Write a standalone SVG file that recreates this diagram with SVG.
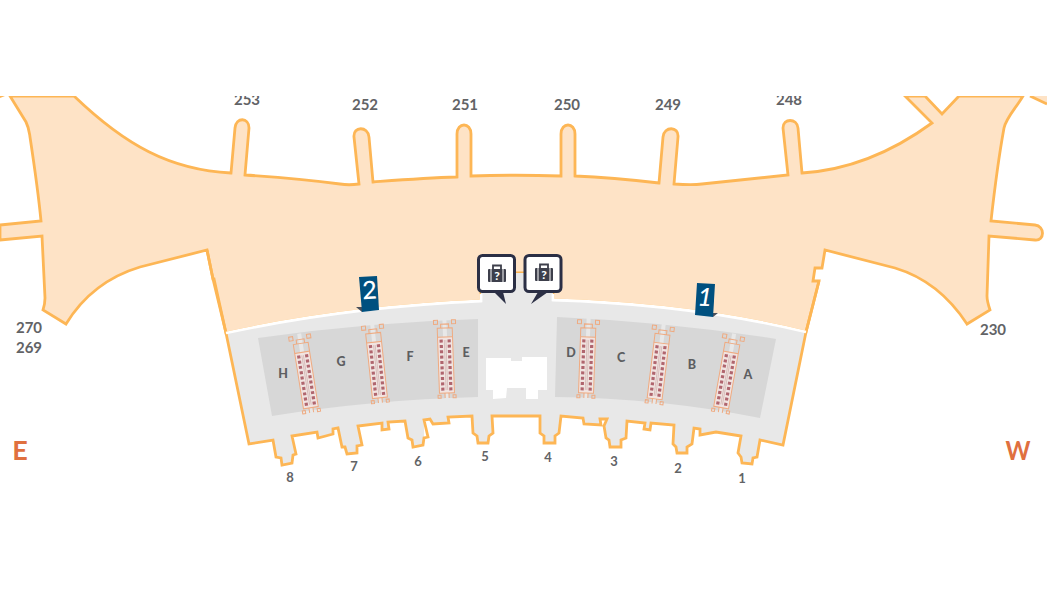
<svg xmlns="http://www.w3.org/2000/svg" width="1050" height="597" viewBox="0 0 1050 597">
<style>
text{font-family:Lato,"Open Sans","Liberation Sans",sans-serif;text-anchor:middle;dominant-baseline:central}
.out{stroke:#fdb655;stroke-width:2.8;stroke-linejoin:miter;fill:#fee3c6}
.wl{fill:none;stroke:#fff;stroke-width:2.8}
.panel{fill:#d7d7d7}
.num{font-size:15px;font-weight:700;fill:#626366}
.gate{font-size:13px;font-weight:700;fill:#626366}
.let{font-size:12.5px;font-weight:900;fill:#5d5e61}
.dir{font-size:27px;font-weight:700;fill:#e0703f}
.flag{fill:#00507f}
.tail{fill:#4a4f5a}
.fl{font-size:25px;font-weight:500;fill:#fff}
.co{fill:#fff;stroke:#2b2f45;stroke-width:3;stroke-linejoin:round}
.coT{fill:#2b2f45}
.p{fill:#f1e4e1;stroke:#efaa80;stroke-width:1}
.po{fill:none;stroke:#efaa80;stroke-width:1}
.s{fill:#b0656e}
.ic{fill:#3d3f4b}
.icq{font-size:12px;font-weight:900;fill:#fff}
</style>
<defs>
<clipPath id="c"><rect x="0" y="96" width="1047" height="420"/></clipPath>
<g id="row"><rect x="-5.6" y="-1.5" width="3.2" height="3" class="s"/><rect x="2.4" y="-1.5" width="3.2" height="3" class="s"/></g>
<g id="pier">
<rect x="-2" y="-47" width="4" height="82" fill="#e8e8e8"/>
<rect x="-7.5" y="-28" width="15" height="56" class="p"/>
<path d="M-2,28V33M2,28V33M-9,33h3v-3h-3zM6,33h3v-3h-3z" class="po"/>
<path d="M-7.5,-28V-37H7.5V-28M-4,-37V-41H4V-37" class="po"/>
<rect x="-11" y="-45" width="4" height="4" class="po"/><rect x="7" y="-45" width="4" height="4" class="po"/>
<path d="M-.8,-25V25M.8,-25V25" stroke="#c9a7a5" stroke-width=".6" fill="none"/>
<use href="#row" y="-24"/><use href="#row" y="-18.7"/><use href="#row" y="-13.4"/><use href="#row" y="-8"/><use href="#row" y="-2.7"/><use href="#row" y="2.7"/><use href="#row" y="8"/><use href="#row" y="13.4"/><use href="#row" y="18.7"/><use href="#row" y="24"/>
</g>
<g id="bag">
<rect x="-9" y="-6" width="18" height="13" rx="1" class="ic"/>
<path d="M-4,-6V-9.5H4V-6" fill="none" stroke="#3d3f4b" stroke-width="1.8"/>
<path d="M-6,-6V7M6,-6V7" stroke="#fff" stroke-width="1"/>
<text y=".8" class="icq">?</text>
</g>
</defs>
<g clip-path="url(#c)">
<g id="concourse">
<path class="out" d="M10,96L26,122C29,128 29,130 30,137C35,170 39,200 41,221L0,225V240L42,236C43,260 44,280 45,298C45,303 44,307 43,310L66,324C85,293 110,276 140,267L207,250L213,279L214,279L226,333Q345,307 481,301V273H553V300Q690,304 806,332L819,281H813L815,268H822L825,250L895,268C925,277 948,295 967,324L990,310C988,304 987,300 987,296L989,236L1035,240C1045,241 1045,226 1035,225L991,221C995,185 1000,150 1004,128C1006,118 1016,108 1023,96H959L942,114L925,96H905L932,123C895,150 850,170 802,173L798,128C797,118 783,118 783,128L788,175L702,184C695,185 688,185 674,184L678,137C679,126 664,126 663,137L659,183C625,179 600,177 575,176V134C575,122 561,122 561,134V176C530,175 500,175 471,176V134C471,122 457,122 457,134V177C425,178 400,180 373,182L369,137C368,126 353,126 354,137L359,184C352,185 346,185 340,184C310,180 275,177 245,175L249,128C249,117 236,117 235,128L231,173C170,170 125,145 74,96Z"/>
<path d="M1030,96L1047,104V96Z" fill="#fee3c6"/>
<path d="M1030,96L1047,104" fill="none" stroke="#fdb655" stroke-width="2.8"/>
<path d="M0,96H5L0,98Z" fill="#fdb655"/>
</g>
<g id="terminal">
<path d="M226,333Q345,307 481,301V273H553V300Q690,304 806,332L783,445L760,440L757,457L753,458L752,464L742,463L741,457L738,453L741,436L716,432L700,435V429L694,428L692,444L687,447V453L677,453L676,447L673,444L674,425L651,423L650,430L644,429L645,423L627,421L626,438L621,440V447H610L609,440L606,438L604,426L607,419H600L601,425L584,424L583,418L561,416L559,433L555,436V443H544V436L540,433V416H493L493,433L489,436L488,443H478L477,436L473,433L472,416L448,417L449,423L433,424L430,419L424,420L424,438L423,445L413,447L412,440L408,438L405,421L388,422L389,429L382,430V423L358,426L362,445L357,446V453L347,454L345,447L342,447L338,428L333,429V434L318,438L317,432L292,436L296,454L293,455L292,463L282,465L281,458L276,457L273,440L249,444Z" fill="#e8e8e8"/>
<path d="M207,250L213,279L226,333L249,444L273,440L276,457L281,458L282,465L292,463L293,455L296,454L292,436L317,432L318,438L333,434V429L338,428L342,447L345,447L347,454L357,453V446L362,445L358,426L382,423V430L389,429L388,422L405,421L408,438L412,440L413,447L423,445L424,438L428,437L424,420L430,419L433,424L449,423L448,417L472,416L473,433L477,436L478,443L488,443L489,436L493,433L492,416H540V433L544,436V443H555V436L559,433L561,416L583,418L584,424L601,425L600,419H607L604,426L606,438L609,440L610,447H621V440L626,438L627,421L645,423L644,429L650,430L651,423L674,425L673,444L676,447L677,453L687,453V447L692,444L694,428L700,429V435L716,432L741,436L738,453L741,457L742,463L752,464L753,458L757,457L760,440L783,445L806,332L819,281" fill="none" stroke="#fdb655" stroke-width="2.8"/>
<path class="wl" d="M226,333Q345,307 481,301V294"/>
<path class="wl" d="M553,294V300Q690,304 806,332"/>
<path class="panel" d="M258,338Q370,322 478,319V397Q370,400 272,416Z"/>
<path class="panel" d="M557,317Q670,322 776,339L760,418Q660,398 555,397Z"/>
<path fill="#fff" d="M486,358H511V361H522V357H547V390H538V399H526V388H507L506,398L493,399V390H486Z"/>
</g>
<g id="piers">
<use href="#pier" transform="translate(306.5,380) rotate(-9)"/>
<use href="#pier" transform="translate(377,370) rotate(-6)"/>
<use href="#pier" transform="translate(446,365) rotate(-2)"/>
<use href="#pier" transform="translate(587,365) rotate(2)"/>
<use href="#pier" transform="translate(658,371) rotate(7)"/>
<use href="#pier" transform="translate(726,380) rotate(10)"/>
</g>
<g id="labels">
<text class="num" x="247" y="99">253</text>
<text class="num" x="365" y="104">252</text>
<text class="num" x="465" y="104">251</text>
<text class="num" x="567" y="104">250</text>
<text class="num" x="668" y="104">249</text>
<text class="num" x="789" y="99">248</text>
<text class="num" x="29" y="327">270</text>
<text class="num" x="29" y="347">269</text>
<text class="num" x="993" y="329">230</text>
<text class="dir" x="20" y="449">E</text>
<text class="dir" x="1018" y="449" textLength="25" lengthAdjust="spacingAndGlyphs">W</text>
<text class="gate" x="290" y="477">8</text>
<text class="gate" x="354" y="466">7</text>
<text class="gate" x="418" y="461">6</text>
<text class="gate" x="485" y="456">5</text>
<text class="gate" x="548" y="457">4</text>
<text class="gate" x="614" y="461">3</text>
<text class="gate" x="678" y="468">2</text>
<text class="gate" x="742" y="478">1</text>
<text class="let" x="283" y="373">H</text>
<text class="let" x="341" y="361">G</text>
<text class="let" x="410" y="356">F</text>
<text class="let" x="466" y="352">E</text>
<text class="let" x="571" y="352">D</text>
<text class="let" x="621" y="357">C</text>
<text class="let" x="692" y="364">B</text>
<text class="let" x="748" y="374">A</text>
</g>
<g id="flag-2">
<path class="tail" d="M356,307L362,312V307Z"/>
<path class="flag" d="M359,277L377,276L379,310L362,312Z"/>
<text class="fl" x="369.5" y="289" transform="rotate(-3 369.5 289)">2</text>
</g>
<g id="flag-1">
<path class="tail" d="M713,313L718,313L713,317Z"/>
<path class="flag" d="M697,283L715,284L713,317L695,315Z"/>
<text class="fl" x="705" y="296" font-style="italic" transform="rotate(3 705 296)">1</text>
</g>
<g id="callout-left">
<path class="coT" d="M494,292H503L506,304Z"/>
<rect class="co" x="478.5" y="255.5" width="36" height="36" rx="4"/>
<use href="#bag" transform="translate(497,275)"/>
</g>
<g id="callout-right">
<path class="coT" d="M538,292H548L531,304Z"/>
<rect class="co" x="525" y="255.5" width="36" height="36" rx="4"/>
<use href="#bag" transform="translate(544,274)"/>
</g>
</g>
</svg>
